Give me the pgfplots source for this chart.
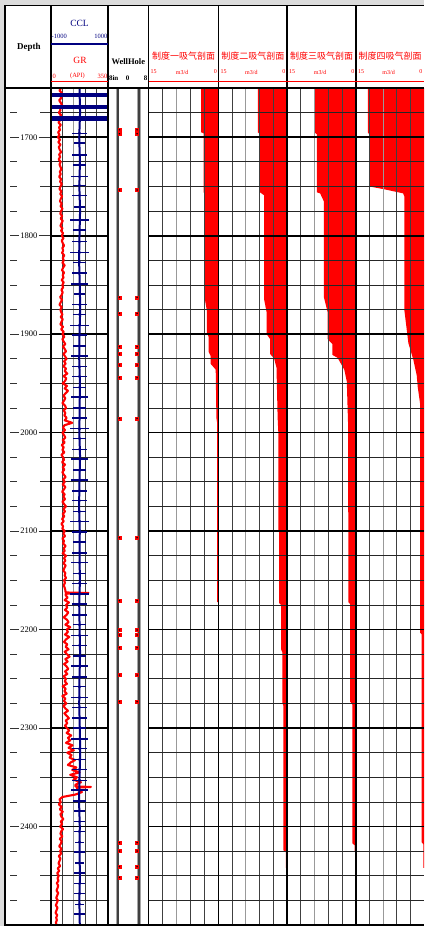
\documentclass[border=0pt]{standalone}
\usepackage{pgfplots}
\pgfplotsset{compat=1.18}
\usepackage{fontspec}
\setmainfont{Liberation Serif}
\newfontfamily\cjk{Noto Sans CJK SC}
\definecolor{navy}{HTML}{000080}
\definecolor{wred}{HTML}{FF0000}
\definecolor{bggray}{HTML}{DCDCDC}
\pgfplotsset{trk/.style={scale only axis, hide axis, ymin=1650, ymax=2500, y dir=reverse, height=837pt, anchor=south west, clip=true}}
\begin{document}
\begin{tikzpicture}[x=1pt,y=1pt]
\useasboundingbox (0,0) rectangle (424,926);
\fill[bggray] (0,0) rectangle (424,926);
\fill[white] (5,0) rectangle (424,920);

% ---------- injection profiles ----------
\begin{axis}[trk, at={(148.5pt,1pt)}, width=70pt, xmin=0, xmax=15, x dir=reverse]
\addplot[fill=wred, draw=none] coordinates {(0,1650)(3.7,1650)(3.7,1695)(3.2,1696)(3.2,1756)(2.9,1757)(2.9,1865)(2.5,1876)(2.5,1898)(2.1,1903)(2.1,1918)(1.7,1922)(1.7,1930)(0.6,1936)(0.45,1985)(0.3,1990)(0.3,2172)(0,2172)};
\end{axis}
\begin{axis}[trk, at={(218.5pt,1pt)}, width=68.5pt, xmin=0, xmax=15, x dir=reverse]
\addplot[fill=wred, draw=none] coordinates {(0,1650)(6.4,1650)(6.4,1695)(5.9,1697)(5.9,1756)(5.0,1759)(5.0,1865)(4.45,1878)(4.45,1900)(3.7,1905)(3.7,1920)(2.8,1925)(2.3,1934)(2.05,1985)(1.9,2000)(1.9,2099)(1.7,2101)(1.7,2173)(1.3,2175)(1.3,2220)(1.03,2223)(1.03,2274)(0.81,2277)(0.81,2424)(0.25,2426)(0.25,2442)(0,2442)};
\end{axis}
\begin{axis}[trk, at={(287pt,1pt)}, width=69pt, xmin=0, xmax=15, x dir=reverse]
\addplot[fill=wred, draw=none] coordinates {(0,1650)(9.05,1650)(9.05,1695)(8.5,1697)(8.5,1756)(7.8,1757)(7.0,1765)(7.0,1862)(6.15,1878)(6.15,1905)(5.15,1910)(5.15,1921)(4.0,1924)(2.55,1936)(2.0,1948)(1.7,1995)(1.67,2172)(1.3,2174)(1.3,2273)(0.8,2276)(0.8,2417)(0.3,2419)(0.3,2425)(0,2425)};
\end{axis}
\begin{axis}[trk, at={(356pt,1pt)}, width=68pt, xmin=0, xmax=15, x dir=reverse]
\addplot[fill=wred, draw=none] coordinates {(0,1650)(12.4,1650)(12.4,1695)(12.1,1697)(12.0,1750)(8.6,1753)(4.6,1757)(4.35,1760)(4.35,1875)(3.45,1909)(2.35,1926)(1.6,1942)(1.4,1953)(0.88,1970)(0.88,2203)(0.5,2205)(0.5,2416)(0.15,2418)(0.15,2442)(0,2442)};
\end{axis}

% ---------- grids ----------
\foreach \a/\b in {51/108, 148.5/218.5, 218.5/287, 287/356, 356/424} {
  \foreach \k in {1,3,4} \draw[black!75, line width=0.8pt] ({\a+\k*(\b-\a)/5},1) -- ({\a+\k*(\b-\a)/5},838);
  \draw[black!40, line width=1.1pt] ({\a+2*(\b-\a)/5},1) -- ({\a+2*(\b-\a)/5},838);
  \foreach \d in {1675,1700,...,2475} \draw[black!85, line width=0.8pt] (\a,{838-(\d-1650)*0.984706}) -- (\b,{838-(\d-1650)*0.984706});
  \foreach \d in {1700,1800,...,2400} \draw[black, line width=1.7pt] (\a,{838-(\d-1650)*0.984706}) -- (\b,{838-(\d-1650)*0.984706});
}
% depth track ticks and labels
\foreach \d in {1675,1725,1750,1775,1825,1850,1875,1925,1950,1975,2025,2050,2075,2125,2150,2175,2225,2250,2275,2325,2350,2375,2425,2450,2475} {
  \draw[black!80, line width=0.8pt] (10,{838-(\d-1650)*0.984706}) -- (17,{838-(\d-1650)*0.984706});
  \draw[black!80, line width=0.8pt] (40,{838-(\d-1650)*0.984706}) -- (51,{838-(\d-1650)*0.984706});
}
\foreach \d in {1700,1800,...,2400} {
  \draw[black!80, line width=0.8pt] (10,{838-(\d-1650)*0.984706}) -- (19,{838-(\d-1650)*0.984706});
  \draw[black!80, line width=0.8pt] (38.5,{838-(\d-1650)*0.984706}) -- (51,{838-(\d-1650)*0.984706});
  \node[inner sep=0pt, font=\fontsize{8.5}{9}\selectfont] at (28.8,{838-(\d-1650)*0.984706}) {\d};
}

% ---------- GR / CCL ----------
\begin{axis}[trk, at={(51pt,1pt)}, width=57pt, xmin=0, xmax=350]
\addplot[wred, line width=2.1pt, line join=round] table[x=gr, y=d] {
d gr
1650 62
1652.5 52
1655 66
1657.5 55
1660 64
1662.5 50
1665 60
1667.5 68
1670 54
1672.5 58
1675 48
1677.5 62
1680 52
1682.5 57
1685 46
1687.5 60
1690 50
1692.5 55
1695 44
1697.5 52
1700 42
1702.5 55
1705 45
1707.5 58
1710 48
1712.5 53
1715 62
1717.5 50
1720 56
1722.5 47
1725 60
1727.5 52
1730 58
1732.5 64
1735 54
1737.5 60
1740 50
1742.5 62
1745 56
1747.5 66
1750 58
1752.5 52
1755 64
1757.5 57
1760 68
1762.5 60
1765 55
1767.5 66
1770 59
1772.5 70
1775 62
1777.5 57
1780 68
1782.5 60
1785 72
1787.5 64
1790 58
1792.5 70
1795 62
1797.5 74
1800 66
1802.5 76
1805 66
1807.5 72
1810 80
1812.5 70
1815 75
1817.5 68
1820 82
1822.5 72
1825 78
1827.5 70
1830 84
1832.5 74
1835 68
1837.5 80
1840 72
1842.5 77
1845 66
1847.5 78
1850 70
1852.5 74
1855 64
1857.5 72
1860 66
1862.5 56
1865 68
1867.5 60
1870 52
1872.5 66
1875 58
1877.5 62
1880 70
1882.5 60
1885 72
1887.5 64
1890 58
1892.5 74
1895 62
1897.5 78
1900 70
1902.5 82
1905 70
1907.5 78
1910 88
1912.5 74
1915 84
1917.5 92
1920 76
1922.5 86
1925 96
1927.5 80
1930 90
1932.5 76
1935 92
1937.5 84
1940 100
1942.5 78
1945 94
1947.5 86
1950 72
1952.5 98
1955 84
1957.5 104
1960 90
1962.5 76
1965 88
1967.5 80
1970 70
1972.5 86
1975 92
1977.5 78
1980 88
1982.5 82
1985 96
1987.5 84
1990 130
1992.5 82
1995 74
1997.5 86
2000 70
2002.5 80
2005 88
2007.5 72
2010 84
2012.5 66
2015 78
2017.5 70
2020 82
2022.5 64
2025 74
2027.5 80
2030 68
2032.5 86
2035 72
2037.5 82
2040 70
2042.5 78
2045 90
2047.5 74
2050 84
2052.5 72
2055 88
2057.5 80
2060 68
2062.5 84
2065 76
2067.5 86
2070 70
2072.5 80
2075 92
2077.5 76
2080 86
2082.5 72
2085 82
2087.5 68
2090 78
2092.5 64
2095 74
2097.5 70
2100 84
2102.5 76
2105 86
2107.5 70
2110 80
2112.5 74
2115 90
2117.5 78
2120 84
2122.5 72
2125 92
2127.5 80
2130 88
2132.5 76
2135 90
2137.5 82
2140 76
2142.5 88
2145 84
2147.5 92
2150 80
2152.5 86
2155 78
2157.5 84
2160 88
2162.3 90
2162.8 230
2163.6 90
2165 90
2167.5 102
2170 84
2172.5 110
2175 92
2177.5 100
2180 86
2182.5 106
2185 96
2187.5 78
2190 98
2192.5 108
2195 88
2197.5 118
2200 96
2202.5 104
2205 86
2207.5 112
2210 92
2212.5 80
2215 100
2217.5 90
2220 108
2222.5 84
2225 98
2227.5 114
2230 88
2232.5 102
2235 80
2237.5 96
2240 106
2242.5 86
2245 100
2247.5 78
2250 92
2252.5 84
2255 98
2257.5 72
2260 90
2262.5 82
2265 96
2267.5 70
2270 88
2272.5 80
2275 94
2277.5 76
2280 88
2282.5 104
2285 82
2287.5 96
2290 110
2292.5 90
2295 100
2297.5 86
2300 98
2302.5 112
2305 96
2307.5 124
2310 104
2312.5 118
2315 92
2317.5 132
2320 108
2322.5 140
2325 100
2327.5 126
2330 114
2332.5 148
2335 120
2337.5 104
2340 156
2342.5 130
2345 176
2347.5 118
2350 160
2352.5 138
2355 184
2357.5 150
2359.3 150
2359.8 245
2360.5 160
2362.5 160
2365 190
2367.5 150
2370 70
2372.5 52
2375 60
2377.5 48
2380 66
2382.5 54
2385 72
2387.5 58
2390 64
2392.5 76
2395 60
2397.5 68
2400 56
2402.5 74
2405 62
2407.5 58
2410 70
2412.5 54
2415 66
2417.5 60
2420 50
2422.5 64
2425 56
2427.5 62
2430 48
2432.5 58
2435 52
2437.5 46
2440 56
2442.5 42
2445 50
2447.5 38
2450 48
2452.5 40
2455 46
2457.5 36
2460 44
2462.5 40
2465 34
2467.5 44
2470 38
2472.5 32
2475 42
2477.5 36
2480 30
2482.5 40
2485 34
2487.5 28
2490 38
2492.5 32
2495 36
2497.5 30
2500 34
};
\end{axis}
\begin{axis}[trk, at={(51pt,1pt)}, width=57pt, xmin=-1000, xmax=1000]
\addplot[navy, line width=2pt] coordinates {(0,1650)(20,1675)(-10,1700)(15,1725)(-5,1750)(20,1775)(0,1800)(-15,1825)(10,1850)(25,1875)(0,1900)(-10,1925)(15,1950)(5,1975)(-5,2000)(20,2025)(0,2050)(-15,2075)(10,2100)(0,2125)(15,2150)(-10,2175)(5,2200)(20,2225)(0,2250)(-10,2275)(10,2300)(25,2325)(0,2350)(-15,2375)(10,2400)(0,2425)(15,2450)(-5,2475)(10,2500)};
\addplot[navy, only marks, mark=none, error bars/.cd, x dir=both, x explicit, error mark=none, error bar style={navy, line width=4.5pt}] coordinates {(0,1657) +- (1300,0) (0,1669.5) +- (1300,0) (0,1681) +- (1300,0)};
\addplot[navy, only marks, mark=*, mark size=1.3pt, error bars/.cd, x dir=both, x explicit, error mark=none, error bar style={navy, line width=1.5pt}] table[x=c, y=d, x error=a] {
c d a
0 1696 250
0 1706 200
0 1718 280
0 1728 230
0 1740 300
0 1749 220
0 1759 260
0 1771 200
0 1784 320
0 1794 240
0 1806 270
0 1817 330
0 1827 220
0 1838 260
0 1849 300
0 1859 210
0 1870 280
0 1880 240
0 1891 330
0 1901 260
0 1912 220
0 1922 300
0 1933 250
0 1943 270
0 1954 230
0 1964 310
0 1975 240
0 1985 280
0 1996 350
0 2006 230
0 2017 260
0 2027 290
0 2038 220
0 2048 300
0 2059 250
0 2069 270
0 2080 230
0 2090 320
0 2101 260
0 2111 240
0 2122 280
0 2132 300
0 2143 230
0 2153 270
0 2164 320
0 2174 250
0 2185 280
0 2195 230
0 2206 300
0 2216 260
0 2227 240
0 2237 310
0 2248 270
0 2258 230
0 2269 290
0 2279 250
0 2290 280
0 2300 240
0 2311 300
0 2321 260
0 2332 230
0 2342 280
0 2353 250
0 2363 300
0 2374 230
0 2384 200
0 2395 180
0 2405 200
0 2416 170
0 2426 190
0 2437 170
0 2447 200
0 2458 180
0 2468 190
0 2479 170
0 2489 190
};
\end{axis}

% ---------- well hole ----------
\begin{axis}[trk, at={(108pt,1pt)}, width=40.5pt, xmin=-8, xmax=8]
\addplot[black!35, line width=3.4pt] coordinates {(-4.2,1650)(-4.2,2500)};
\addplot[black!35, line width=3.4pt] coordinates {(4.2,1650)(4.2,2500)};
\addplot[black!75, line width=2pt] coordinates {(-4.2,1650)(-4.2,2500)};
\addplot[black!75, line width=2pt] coordinates {(4.2,1650)(4.2,2500)};
\addplot[only marks, mark=square*, mark size=1.5pt, mark options={fill=wred, draw=wred}] coordinates {(-3.5,1692.5)(3.5,1692.5)(-3.5,1696.5)(3.5,1696.5)(-3.5,1753.6)(3.5,1753.6)(-3.5,1862.5)(3.5,1862.5)(-3.5,1878.8)(3.5,1878.8)(-3.5,1912.7)(3.5,1912.7)(-3.5,1920.1)(3.5,1920.1)(-3.5,1931.3)(3.5,1931.3)(-3.5,1944.2)(3.5,1944.2)(-3.5,1985.4)(3.5,1985.4)(-3.5,2106.7)(3.5,2106.7)(-3.5,2170.7)(3.5,2170.7)(-3.5,2200.4)(3.5,2200.4)(-3.5,2205.5)(3.5,2205.5)(-3.5,2218.4)(3.5,2218.4)(-3.5,2246.2)(3.5,2246.2)(-3.5,2273.2)(3.5,2273.2)(-3.5,2416.4)(3.5,2416.4)(-3.5,2424.9)(3.5,2424.9)(-3.5,2440.8)(3.5,2440.8)(-3.5,2451.6)(3.5,2451.6)};
\addplot[only marks, mark=*, mark size=0.45pt, black] coordinates {(-3.5,1692.5)(3.5,1692.5)(-3.5,1696.5)(3.5,1696.5)(-3.5,1753.6)(3.5,1753.6)(-3.5,1862.5)(3.5,1862.5)(-3.5,1878.8)(3.5,1878.8)(-3.5,1912.7)(3.5,1912.7)(-3.5,1920.1)(3.5,1920.1)(-3.5,1931.3)(3.5,1931.3)(-3.5,1944.2)(3.5,1944.2)(-3.5,1985.4)(3.5,1985.4)(-3.5,2106.7)(3.5,2106.7)(-3.5,2170.7)(3.5,2170.7)(-3.5,2200.4)(3.5,2200.4)(-3.5,2205.5)(3.5,2205.5)(-3.5,2218.4)(3.5,2218.4)(-3.5,2246.2)(3.5,2246.2)(-3.5,2273.2)(3.5,2273.2)(-3.5,2416.4)(3.5,2416.4)(-3.5,2424.9)(3.5,2424.9)(-3.5,2440.8)(3.5,2440.8)(-3.5,2451.6)(3.5,2451.6)};
\end{axis}

% ---------- frame ----------
\foreach \x in {51,108,148.5,218.5,287,356} \draw[black, line width=1.4pt] (\x,1) -- (\x,920);
\draw[black, line width=1.4pt] (5,0) -- (5,920.7) -- (424,920.7);
\draw[black, line width=1.6pt] (5,838) -- (424,838);
\draw[black, line width=1.4pt] (5,1) -- (424,1);

% ---------- header ----------
\node[font=\bfseries\fontsize{9}{10}\selectfont] at (29,879) {Depth};
\node[text=navy, font=\fontsize{9.5}{10}\selectfont] at (79.5,903) {CCL};
\node[text=navy, anchor=west, inner sep=0pt, font=\fontsize{6.5}{7}\selectfont] at (51.5,890) {-1000};
\node[text=navy, anchor=east, inner sep=0pt, font=\fontsize{6.5}{7}\selectfont] at (107.5,890) {1000};
\draw[navy, line width=1.5pt] (51,882) -- (108,882);
\node[text=wred, font=\fontsize{9.5}{10}\selectfont] at (80,866) {GR};
\node[text=wred, anchor=west, inner sep=0pt, font=\fontsize{6.5}{7}\selectfont] at (52.5,850) {0};
\node[text=wred, inner sep=0pt, font=\fontsize{6.5}{7}\selectfont] at (77.5,850) {(API)};
\node[text=wred, anchor=east, inner sep=0pt, font=\fontsize{6.5}{7}\selectfont] at (107.5,850) {350};
\draw[wred, line width=1.8pt] (51,844.5) -- (108,844.5);
\node[font=\bfseries\fontsize{8.5}{9}\selectfont, inner sep=0pt] at (128.3,864) {WellHole};
\node[font=\bfseries\fontsize{7}{8}\selectfont, anchor=west, inner sep=0pt] at (108.8,847.5) {8in};
\node[font=\bfseries\fontsize{7}{8}\selectfont, inner sep=0pt] at (127.5,847.5) {0};
\node[font=\bfseries\fontsize{7}{8}\selectfont, anchor=east, inner sep=0pt] at (147.5,847.5) {8};
\foreach \a/\b/\t in {148.5/218.5/一, 218.5/287/二, 287/356/三, 356/424/四} {
  \node[text=wred, inner sep=0pt, font=\cjk\fontsize{9}{10}\selectfont] at ({(\a+\b)/2},870) {制度\t 吸气剖面};
  \node[text=wred, anchor=west, inner sep=0pt, font=\fontsize{6}{7}\selectfont] at ({\a+2},854) {15};
  \node[text=wred, inner sep=0pt, font=\fontsize{6}{7}\selectfont] at ({\a+0.48*(\b-\a)},854) {m3/d};
  \node[text=wred, anchor=east, inner sep=0pt, font=\fontsize{6}{7}\selectfont] at ({\b-1.5},854) {0};
  \draw[wred, line width=1.8pt] (\a,844.5) -- (\b,844.5);
}
\end{tikzpicture}
\end{document}
